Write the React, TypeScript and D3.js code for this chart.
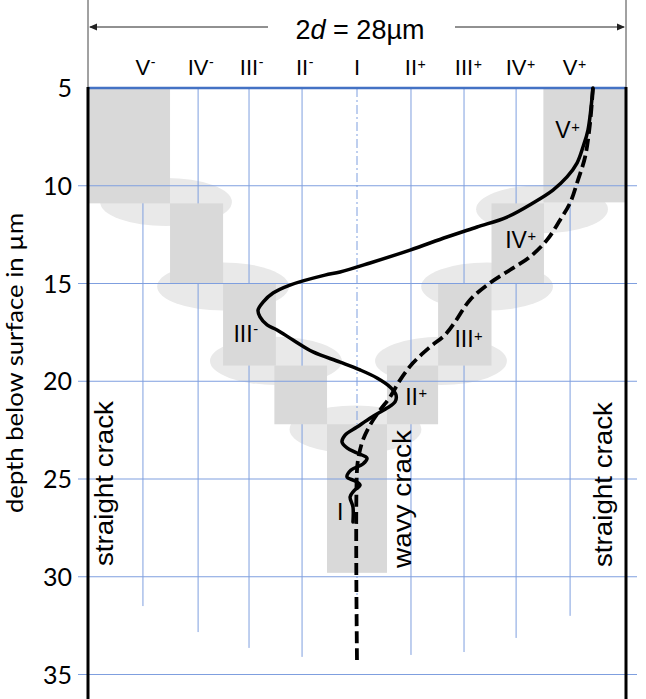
import React, { useEffect, useRef } from 'react';
import * as d3 from 'd3';

const W = 646;
const H = 699;

// depth axis
const depthTicks = [5, 10, 15, 20, 25, 30, 35];

// zone labels across the top (positions in µm from centre)
const zoneNames = ['V', 'IV', 'III', 'II', 'I', 'II', 'III', 'IV', 'V'];
const zoneSigns = ['-', '-', '-', '-', '', '+', '+', '+', '+'];
const zoneX = [-11.14, -8.27, -5.62, -2.86, 0, 2.81, 5.57, 8.28, 11.09];
const zoneGridEnd = [31.5, 32.83, 33.64, 34.1, 31.0, 34.0, 33.85, 33.13, 32.0];

// grey grain blocks
const blockX0 = [-14, -9.73, -6.97, -4.3, -1.56, 1.56, 4.22, 7.0, 9.7];
const blockX1 = [-9.73, -6.97, -4.22, -1.56, 1.56, 4.22, 7.0, 9.73, 14];
const blockD0 = [5, 10.9, 15, 19.2, 22.2, 19.2, 15, 10.9, 5];
const blockD1 = [10.9, 15, 19.2, 22.2, 29.8, 22.2, 19.2, 15, 10.85];

// light ellipses at block transitions
const ellipseX = [-9.94, -6.97, -4.22, -0.08, 4.37, 6.77, 9.63];
const ellipseD = [10.83, 15.15, 18.96, 22.47, 18.96, 15.15, 11.2];

// labels inside blocks
const blockLabelName = ['V', 'IV', 'III', 'II', 'I', 'III'];
const blockLabelSign = ['+', '+', '+', '+', '', '-'];
const blockLabelX = [10.72, 8.28, 5.57, 2.84, -0.88, -5.93];
const blockLabelD = [7.56, 13.18, 18.25, 21.21, 27.1, 18.0];

// wavy crack (solid)
const solidX = [12.28, 12.02, 11.76, 11.45, 10.93, 10.2, 9.16, 7.81, 6.25, 4.68, 2.76, 0.68, -0.88, -1.67, -3.49, -4.37, -4.89, -5.15, -5.05, -4.68, -4.16, -3.33, -2.29, -0.88, 0.16, 1.04, 1.72, 2.03, 1.98, 1.56, 0.78, 0, -0.62, -0.78, -0.52, 0, 0.52, 0.31, -0.31, -0.52, -0.1, 0.16, -0.16, -0.36, -0.21, -0.21];
const solidD = [5.0, 7.15, 8.02, 8.84, 9.55, 10.22, 10.88, 11.6, 12.11, 12.62, 13.29, 13.95, 14.41, 14.57, 15.08, 15.49, 15.95, 16.36, 16.71, 17.12, 17.38, 17.89, 18.5, 19.02, 19.42, 19.83, 20.29, 20.7, 21.06, 21.37, 21.83, 22.34, 22.75, 23.11, 23.41, 23.67, 23.93, 24.23, 24.54, 24.9, 25.1, 25.31, 25.61, 25.92, 26.43, 27.2];

// smooth crack (dashed)
const dashedX = [12.28, 12.13, 11.87, 11.5, 11.09, 10.57, 9.89, 9.0, 7.96, 6.92, 5.88, 5.1, 4.58, 3.8, 2.91, 2.24, 1.72, 1.2, 0.68, 0.31, 0.1, 0, 0];
const dashedD = [5.0, 6.79, 8.53, 9.71, 10.88, 11.75, 12.77, 13.64, 14.31, 14.97, 15.84, 16.97, 17.63, 18.25, 19.07, 19.94, 20.81, 21.47, 22.24, 23.0, 23.77, 24.54, 34.36];

const SANS = "'Liberation Sans', Arial, sans-serif";
const HUMAN = "Lato, 'Open Sans', sans-serif";

export default function App() {
  const ref = useRef<SVGSVGElement | null>(null);

  useEffect(() => {
    const svg = d3.select(ref.current);
    svg.selectAll('*').remove();

    const x = d3.scaleLinear().domain([-14, 14]).range([88, 626]);
    const y = d3.scaleLinear().domain([5, 35]).range([88, 674.5]);

    const gridColor = '#7f9fdf';

    // ellipses
    svg.append('g').selectAll('ellipse').data(ellipseX).join('ellipse')
      .attr('cx', (d) => x(d))
      .attr('cy', (_d, i) => y(ellipseD[i]))
      .attr('rx', x(3.43) - x(0))
      .attr('ry', y(6.23) - y(5))
      .attr('fill', '#e9e9e9');

    // vertical grid lines
    svg.append('g').selectAll('line').data(zoneX).join('line')
      .attr('x1', (d) => x(d)).attr('x2', (d) => x(d))
      .attr('y1', y(5)).attr('y2', (_d, i) => y(zoneGridEnd[i]))
      .attr('stroke', gridColor)
      .attr('stroke-width', 1)
      .attr('stroke-dasharray', (_d, i) => (zoneNames[i] === 'I' ? '9,3,2,3' : null));

    // blocks
    svg.append('g').selectAll('rect').data(blockX0).join('rect')
      .attr('x', (d) => x(d))
      .attr('y', (_d, i) => y(blockD0[i]))
      .attr('width', (d, i) => x(blockX1[i]) - x(d))
      .attr('height', (_d, i) => y(blockD1[i]) - y(blockD0[i]))
      .attr('fill', '#d9d9d9');

    // horizontal grid lines
    svg.append('g').selectAll('line').data(depthTicks.slice(1)).join('line')
      .attr('x1', 78).attr('x2', 637)
      .attr('y1', (d) => y(d)).attr('y2', (d) => y(d))
      .attr('stroke', gridColor).attr('stroke-width', 1);

    // surface line
    svg.append('line')
      .attr('x1', x(-14)).attr('x2', x(14))
      .attr('y1', y(5)).attr('y2', y(5))
      .attr('stroke', '#4472c4').attr('stroke-width', 2.5);

    // boundaries (straight cracks)
    [-14, 14].forEach((v) => {
      svg.append('line')
        .attr('x1', x(v)).attr('x2', x(v))
        .attr('y1', 0).attr('y2', y(5))
        .attr('stroke', '#444').attr('stroke-width', 1);
      svg.append('line')
        .attr('x1', x(v)).attr('x2', x(v))
        .attr('y1', y(5) - 1).attr('y2', H)
        .attr('stroke', '#000').attr('stroke-width', 3);
    });

    // dimension arrow
    const ay = 27;
    const arrow = svg.append('g').attr('stroke', '#222').attr('fill', '#222');
    arrow.append('line').attr('x1', x(-14) + 2).attr('x2', 268).attr('y1', ay).attr('y2', ay).attr('stroke-width', 1);
    arrow.append('line').attr('x1', 455).attr('x2', x(14) - 2).attr('y1', ay).attr('y2', ay).attr('stroke-width', 1);
    arrow.append('path').attr('stroke', 'none')
      .attr('d', `M${x(-14) + 1},${ay} l8,-3.5 l0,7 z`);
    arrow.append('path').attr('stroke', 'none')
      .attr('d', `M${x(14) - 1},${ay} l-8,-3.5 l0,7 z`);

    const title = svg.append('text')
      .attr('x', 360).attr('y', 39)
      .attr('text-anchor', 'middle')
      .attr('font-family', SANS).attr('font-size', 27).attr('fill', '#000');
    title.append('tspan').text('2');
    title.append('tspan').attr('font-style', 'italic').text('d');
    title.append('tspan').text(' = 28µm');

    // zone labels on top
    const addLabel = (g: any, cx: number, by: number, name: string, sign: string, fs: number) => {
      const t = g.append('text')
        .attr('x', cx).attr('y', by)
        .attr('text-anchor', 'middle')
        .attr('font-family', SANS).attr('font-size', fs).attr('fill', '#000')
        .text(name);
      const node = t.node() as SVGTextElement;
      const w = node.getComputedTextLength();
      if (sign) {
        g.append('text')
          .attr('x', cx + w / 2 + 0.5)
          .attr('y', by - (sign === '+' ? 6.5 : 8.5))
          .attr('font-family', SANS).attr('font-size', fs * 0.64).attr('fill', '#000')
          .text(sign);
      }
    };
    const zg = svg.append('g');
    zoneNames.forEach((n, i) => addLabel(zg, x(zoneX[i]), 75, n, zoneSigns[i], 22));

    // curves
    const line = d3.line<number>()
      .x((d) => x(d))
      .curve(d3.curveCatmullRom.alpha(0.5));
    svg.append('path')
      .attr('d', line.y((_d, i) => y(solidD[i]))(solidX))
      .attr('fill', 'none').attr('stroke', '#000').attr('stroke-width', 3.5)
      .attr('stroke-linejoin', 'round').attr('stroke-linecap', 'round');
    svg.append('path')
      .attr('d', line.y((_d, i) => y(dashedD[i]))(dashedX))
      .attr('fill', 'none').attr('stroke', '#000').attr('stroke-width', 3.8)
      .attr('stroke-dasharray', '12,5');

    // block labels
    const bg = svg.append('g');
    blockLabelName.forEach((n, i) => addLabel(bg, x(blockLabelX[i]), y(blockLabelD[i]), n, blockLabelSign[i], 23));

    // axis tick labels
    svg.append('g').selectAll('text').data(depthTicks).join('text')
      .attr('x', 72).attr('y', (d) => y(d))
      .attr('dy', '0.36em')
      .attr('text-anchor', 'end')
      .attr('font-family', HUMAN).attr('font-size', 25).attr('fill', '#000')
      .text((d) => d);

    svg.append('text')
      .attr('transform', 'translate(22.5,363) rotate(-90)')
      .attr('text-anchor', 'middle')
      .attr('font-family', HUMAN).attr('font-size', 23).attr('fill', '#000')
      .attr('textLength', 300).attr('lengthAdjust', 'spacingAndGlyphs')
      .text('depth below surface in µm');

    // rotated annotations
    const rot = (bx: number, sy: number, txt: string, len: number) => {
      svg.append('text')
        .attr('transform', `translate(${bx},${sy}) rotate(-90)`)
        .attr('font-family', SANS).attr('font-size', 26).attr('fill', '#000')
        .attr('textLength', len).attr('lengthAdjust', 'spacingAndGlyphs')
        .text(txt);
    };
    rot(113, 566, 'straight crack', 165);
    rot(411, 568, 'wavy crack', 138);
    rot(612, 567, 'straight crack', 165);
  }, []);

  return (
    <svg
      ref={ref}
      width={W}
      height={H}
      viewBox={`0 0 ${W} ${H}`}
      style={{ position: 'absolute', left: 0, top: 0, background: '#fff' }}
    />
  );
}
